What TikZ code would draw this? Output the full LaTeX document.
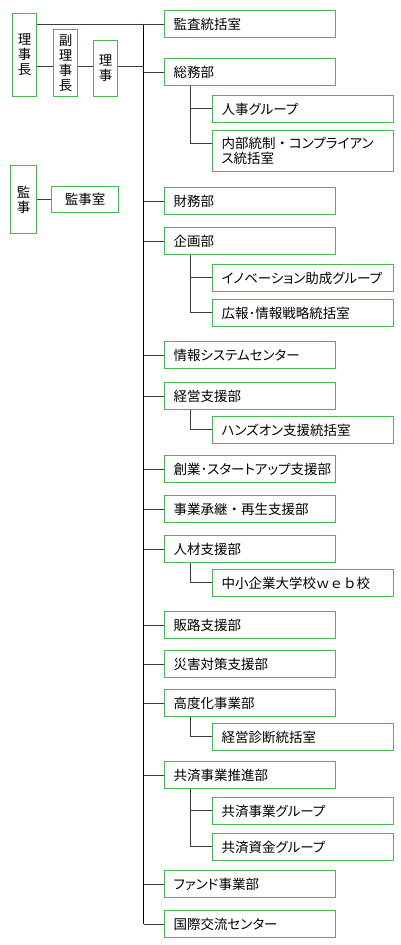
\documentclass[tikz,border=0pt]{standalone}
\usepackage{fontspec}
\setmainfont[RawFeature=+palt]{Noto Sans CJK JP}
\newfontfamily\fullw{Noto Sans CJK JP}
\usetikzlibrary{positioning}
\definecolor{boxgreen}{RGB}{70,185,80}
\definecolor{linegray}{RGB}{60,60,60}
\tikzset{
  box/.style={draw=boxgreen, line width=1.2pt, inner sep=0pt, anchor=north west,
    font=\fontsize{13.5}{15}\selectfont},
  vbox/.style={box, align=center, minimum width=24pt},
  dept/.style={box, align=left, text width=153pt, inner xsep=9pt, minimum height=27pt},
  sect/.style={box, align=left, text width=163pt, inner xsep=9pt, minimum height=27pt},
  branch/.style={draw=linegray, line width=1pt}
}
\begin{document}
\begin{tikzpicture}[x=1pt, y=-1pt]
\useasboundingbox (0,0) rectangle (400,945);

\node[vbox, minimum height=83pt] (rijicho) at (12,13) {理\\事\\長};
\node[vbox, minimum height=67pt] (fukuriji) at (53,29) {副\\理\\事\\長};
\node[vbox, minimum height=56pt] (riji) at (93,40) {理\\事};
\node[vbox, minimum width=26pt, minimum height=68pt] (kanji) at (10,165) {監\\事};
\node[box, minimum width=67pt, minimum height=26pt] (kanjishitsu) at (51,186) {監事室};

\node[dept] (kansa) at (164,10) {監査統括室};
\node[dept] (somu) at (164,58) {総務部};
\node[sect] (jinji) at (212,95) {人事グループ};
\node[sect, minimum height=41pt] (naibu) at (212,130) {内部統制{\fullw ・}コンプライアン\\ス統括室};
\node[dept] (zaimu) at (164,187) {財務部};
\node[dept] (kikaku) at (164,227) {企画部};
\node[sect] (inobe) at (212,264) {イノベーション助成グループ};
\node[sect] (koho) at (212,299) {広報･情報戦略統括室};
\node[dept] (joho) at (164,341) {情報システムセンター};
\node[dept] (keiei) at (164,382) {経営支援部};
\node[sect] (hanzu) at (212,416) {ハンズオン支援統括室};
\node[dept] (sogyo) at (164,455) {創業･スタートアップ支援部};
\node[dept] (jigyo) at (164,495) {事業承継{\fullw ・}再生支援部};
\node[dept] (jinzai) at (164,535) {人材支援部};
\node[sect] (chusho) at (212,569) {中小企業大学校{\fullw ｗｅｂ}校};
\node[dept] (hanro) at (164,611) {販路支援部};
\node[dept] (saigai) at (164,650) {災害対策支援部};
\node[dept] (kodoka) at (164,689) {高度化事業部};
\node[sect] (shindan) at (212,723) {経営診断統括室};
\node[dept] (kyosai) at (164,761) {共済事業推進部};
\node[sect] (kyosaigr) at (212,797) {共済事業グループ};
\node[sect] (shikin) at (212,833) {共済資金グループ};
\node[dept] (fando) at (164,870) {ファンド事業部};
\node[dept] (kokusai) at (164,910) {国際交流センター};

\coordinate (top) at (143.5,23.5);
\draw[line width=1.3pt] (top) -- (top |- kokusai.west);
\draw[branch] (rijicho.east |- kansa.west) -- (kansa.west);
\draw[branch] (rijicho.east |- 0,66) -- (fukuriji.west |- 0,66)
  (fukuriji.east |- 0,66) -- (riji.west |- 0,66)
  (riji.east |- 0,66) -- (top |- 0,66);
\draw[branch] (kanji.east |- kanjishitsu.west) -- (kanjishitsu.west);

\foreach \d in {somu,zaimu,kikaku,joho,keiei,sogyo,jigyo,jinzai,hanro,saigai,kodoka,kyosai,fando,kokusai}
  \draw[branch] (\d.west) -- (\d.west -| top);

\foreach \p/\c in {somu/jinji,somu/naibu,kikaku/inobe,kikaku/koho,keiei/hanzu,
    jinzai/chusho,kodoka/shindan,kyosai/kyosaigr,kyosai/shikin}
  \draw[branch] ([xshift=26pt]\p.south west) |- ([yshift=-13.5pt]\c.north west);

\end{tikzpicture}
\end{document}
